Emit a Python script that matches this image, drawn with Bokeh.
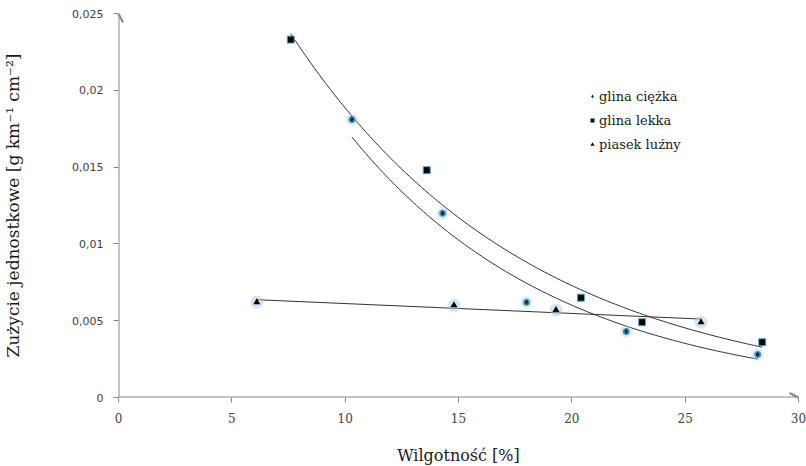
import numpy as np
from bokeh.plotting import figure
from bokeh.models import Range1d, FixedTicker, Arrow, OpenHead, Legend, LegendItem
from bokeh.embed import file_html
from bokeh.resources import INLINE

# --- data ---
gc_x = [10.3, 14.3, 18.0, 22.4, 28.2]          # glina ciężka
gc_y = [0.0181, 0.0120, 0.0062, 0.0043, 0.0028]
gl_x = [7.6, 13.6, 20.4, 23.1, 28.4]           # glina lekka
gl_y = [0.0233, 0.0148, 0.0065, 0.0049, 0.0036]
pl_x = [6.1, 14.8, 19.3, 25.7]                 # piasek luźny
pl_y = [0.0062, 0.0060, 0.0057, 0.0049]

series_names = ["glina ciężka", "glina lekka", "piasek luźny"]
x_ticks = [0, 5, 10, 15, 20, 25, 30]
y_ticks = [0, 0.005, 0.01, 0.015, 0.02, 0.025]
y_tick_labels = ["0", "0,005", "0,01", "0,015", "0,02", "0,025"]
x_title = "Wilgotność [%]"
y_title = "Zużycie jednostkowe [g km⁻¹ cm⁻²]"

SERIF = "DejaVu Serif"
AXIS_GRAY = "#868686"

p = figure(width=806, height=466, output_backend="svg", toolbar_location=None,
           x_range=Range1d(0, 30), y_range=Range1d(0, 0.025),
           frame_width=680, frame_height=384,
           min_border_left=117, min_border_right=9, min_border_top=13, min_border_bottom=69)
p.outline_line_color = None
p.grid.grid_line_color = None
p.background_fill_color = "white"
p.border_fill_color = "white"

# axes
for ax in (p.xaxis[0], p.yaxis[0]):
    ax.axis_line_color = None
    ax.major_tick_line_color = AXIS_GRAY
    ax.major_tick_out = 5
    ax.major_tick_in = 0
    ax.minor_tick_line_color = None
    ax.axis_label_text_font = SERIF
    ax.axis_label_text_font_style = "normal"
    ax.axis_label_text_color = "#1a1a1a"

p.xaxis.ticker = FixedTicker(ticks=x_ticks)
p.xaxis.major_label_text_font = SERIF
p.xaxis.major_label_text_font_size = "12px"
p.xaxis.major_label_text_color = "#404040"
p.xaxis.major_label_standoff = 10
p.xaxis.axis_label = x_title
p.xaxis.axis_label_text_font_size = "16px"
p.xaxis.axis_label_standoff = 20

p.yaxis.ticker = FixedTicker(ticks=y_ticks)
p.yaxis.major_label_overrides = {t: l for t, l in zip(y_ticks, y_tick_labels)}
p.yaxis.major_label_text_font = "DejaVu Sans"
p.yaxis.major_label_text_font_size = "11px"
p.yaxis.major_label_text_color = "#404040"
p.yaxis.major_label_standoff = 10
p.yaxis.axis_label = y_title
p.yaxis.axis_label_text_font_size = "17px"
p.yaxis.axis_label_standoff = 46

# axis lines with arrow heads
p.add_layout(Arrow(x_start=0, y_start=0, x_end=0, y_end=0.025,
                   line_color=AXIS_GRAY, line_width=2,
                   end=OpenHead(size=9, line_color=AXIS_GRAY, line_width=2)))
p.add_layout(Arrow(x_start=0, y_start=0, x_end=30, y_end=0,
                   line_color=AXIS_GRAY, line_width=2,
                   end=OpenHead(size=9, line_color=AXIS_GRAY, line_width=2)))

# trend lines (fitted from the data)
def exp_fit(xs, ys):
    b, ln_a = np.polyfit(np.array(xs), np.log(np.array(ys)), 1)
    xx = np.linspace(min(xs), max(xs), 120)
    return xx, np.exp(ln_a) * np.exp(b * xx)

def lin_fit(xs, ys):
    m, c = np.polyfit(np.array(xs), np.array(ys), 1)
    xx = np.linspace(min(xs), max(xs), 2)
    return xx, m * xx + c

TREND = "#333333"
xx, yy = exp_fit(gc_x, gc_y)
p.line(xx, yy, line_color=TREND, line_width=1)
xx, yy = exp_fit(gl_x, gl_y)
p.line(xx, yy, line_color=TREND, line_width=1)
xx, yy = lin_fit(pl_x, pl_y)
p.line(xx, yy, line_color=TREND, line_width=1)

# markers: glina ciężka (glowing diamond)
p.scatter(gc_x, gc_y, marker="circle", size=12, fill_color="#a8cfdd", fill_alpha=0.4, line_color=None)
p.scatter(gc_x, gc_y, marker="circle", size=7, fill_color="#4a9bb5", line_color=None)
r_gc = p.scatter(gc_x, gc_y, marker="diamond", size=6, fill_color="#0f2a44", line_color=None)

# glina lekka (black square with cyan edge)
r_gl = p.scatter(gl_x, gl_y, marker="square", size=7, fill_color="black", line_color="#4bacc6", line_width=1)

# piasek luźny (black triangle with light glow)
p.scatter(pl_x, pl_y, marker="circle", size=13, fill_color="#a9d0e2", fill_alpha=0.5, line_color=None)
r_pl = p.scatter(pl_x, pl_y, marker="triangle", size=7, fill_color="black", line_color=None)

legend = Legend(items=[LegendItem(label=series_names[0], renderers=[r_gc]),
                       LegendItem(label=series_names[1], renderers=[r_gl]),
                       LegendItem(label=series_names[2], renderers=[r_pl])],
                location=(469, 243), orientation="vertical",
                glyph_width=10, glyph_height=20, label_height=20, spacing=4,
                label_standoff=2, padding=0, margin=0,
                label_text_font=SERIF, label_text_font_size="13px", label_text_color="#1a1a1a",
                border_line_color=None, background_fill_alpha=0)
p.add_layout(legend)

open("out.html", "w").write(file_html(p, INLINE))
